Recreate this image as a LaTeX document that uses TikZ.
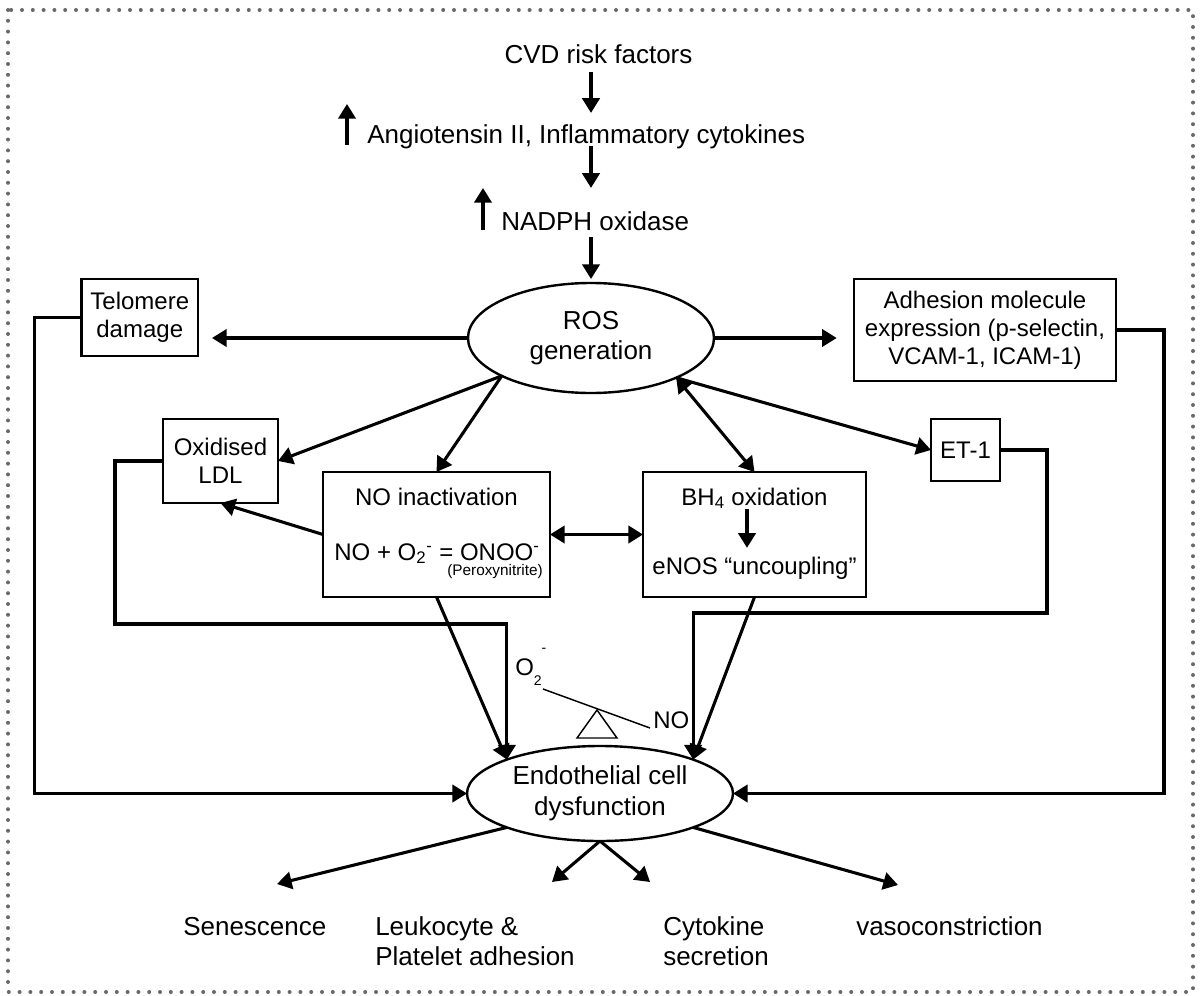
\documentclass[tikz,border=0pt]{standalone}
\usepackage{fontspec}
\setmainfont{Liberation Sans}
\usepackage{tikz}
\usetikzlibrary{arrows.meta,shapes.geometric,calc}

\begin{document}
\begin{tikzpicture}[x=0.75pt,y=0.75pt,yscale=-1,xscale=1,
  box/.style={draw,line width=1.7pt,inner sep=0pt,outer sep=0pt,align=center,font=\fontsize{18}{21}\selectfont},
  oval/.style={draw,ellipse,line width=1.8pt,inner sep=0pt,outer sep=0pt,align=center,font=\fontsize{19.5}{23}\selectfont},
  txt/.style={inner sep=0pt,font=\fontsize{18}{21}\selectfont},
  lbl/.style={inner sep=0pt,align=left,font=\fontsize{19.5}{22.5}\selectfont},
  arr/.style={line width=2.3pt,-{Triangle[length=11pt,width=13pt]}},
  dblarr/.style={line width=2.3pt,{Triangle[length=11pt,width=13pt]}-{Triangle[length=11pt,width=13pt]}},
  lever/.style={line width=1.1pt}
]
  \useasboundingbox (0,0) rectangle (1200,996);

  %Dotted frame
  \draw [color={rgb, 255:red, 105; green, 105; blue, 105 },line width=3pt,line cap=round,dash pattern=on 0pt off 8.1pt] (8,10) rectangle (1193,992);

  % Text Node
  \node (cvd) [lbl,anchor=base] at (598.5,63) {CVD risk factors};
  % Text Node
  \node (ang) [lbl,anchor=base west] at (367,143) {Angiotensin II, Inflammatory cytokines};
  % Text Node
  \node (nadph) [lbl,anchor=base west] at (501,230) {NADPH oxidase};

  %Shape: Ellipse
  \node (ros) [oval,minimum width=184.5pt,minimum height=82.5pt] at (591,338) {ROS\\generation};
  %Shape: Ellipse
  \node (ecd) [oval,minimum width=199.5pt,minimum height=71.25pt] at (600,793.5) {Endothelial cell\\dysfunction};

  %Shape: Rectangle
  \node (tel) [box,minimum width=87.4pt,minimum height=57.75pt] at (139.75,317.5) {Telomere\\damage};
  %Shape: Rectangle
  \node (adh) [box,minimum width=196.5pt,minimum height=76.5pt] at (985,330) {Adhesion molecule\\expression (p-selectin,\\VCAM-1, ICAM-1)};
  %Shape: Rectangle
  \node (oxl) [box,minimum width=86.25pt,minimum height=63pt] at (220.5,461) {Oxidised\\LDL};
  %Shape: Rectangle
  \node (noin) [box,minimum width=170.25pt,minimum height=93.75pt] at (436.5,534.5) {};
  %Shape: Rectangle
  \node (bh) [box,minimum width=167.25pt,minimum height=93.75pt] at (754.5,534.5) {};
  %Shape: Rectangle
  \node (et) [box,minimum width=51.75pt,minimum height=46.5pt] at (965.5,450) {ET-1};

  % Text Node
  \node (notitle) [txt,anchor=base] at (436.5,505) {NO inactivation};
  % Text Node
  \node (noeq) [txt,anchor=base] at (437,560) {NO + O\textsubscript{2}\textsuperscript{-} = ONOO\textsuperscript{-}};
  % Text Node
  \node (perox) [txt,anchor=base east,font=\fontsize{11.5}{13}\selectfont] at (543,575) {(Peroxynitrite)};
  % Text Node
  \node (bhtitle) [txt,anchor=base] at (754.5,505) {BH\textsubscript{4} oxidation};
  % Text Node
  \node (bheq) [txt,anchor=base] at (754.5,574) {eNOS “uncoupling”};

  % Text Node
  \node (o2) [txt,anchor=base west] at (515,675) {O\raisebox{-0.42em}{\fontsize{10.5}{12}\selectfont 2}\raisebox{0.95em}{\fontsize{10.5}{12}\selectfont -}};
  % Text Node
  \node (nolab) [txt,anchor=base west] at (653,728) {NO};
  %Straight Lines
  \draw [lever] (543,689) -- (650,728);
  %Shape: Triangle
  \draw [lever] (577,738) -- (597,710) -- (617,738) -- cycle;

  % Text Node
  \node (sen) [lbl,anchor=base west] at (183,935) {Senescence};
  % Text Node
  \node (leu) [lbl,anchor=north west] at (375,916) {Leukocyte \&\\Platelet adhesion};
  % Text Node
  \node (cyt) [lbl,anchor=north west] at (663,916) {Cytokine\\secretion};
  % Text Node
  \node (vas) [lbl,anchor=base west] at (856,935) {vasoconstriction};

  \coordinate (telbend) at (34.5,793.5);
  \coordinate (oxlbend) at (115,624);
  \coordinate (etbend) at (1047,613);
  \coordinate (adhbend) at (1164,793.5);
  \coordinate (sentip) at (277,884);
  \coordinate (leutip) at (552,882);
  \coordinate (cyttip) at (650,882);
  \coordinate (vastip) at (898,885);

  %Straight Lines
  \draw [arr,shorten <=6.75pt,shorten >=8.25pt] (cvd.base -| ros.north) -- (ang.north -| ros.north);
  \draw [arr,shorten <=2.25pt,shorten >=17.25pt] (ang.base -| ros.north) -- (nadph.north -| ros.north);
  \draw [arr,shorten <=5.25pt,shorten >=3pt] (nadph.base -| ros.north) -- (ros.north);
  \draw [arr] ($(ang.base west)+(-20,2)$) -- ($(ang.base west)+(-20,-39)$);
  \draw [arr] ($(nadph.base west)+(-18,0)$) -- ($(nadph.base west)+(-18,-42)$);

  \draw [arr,shorten >=10.5pt] (ros.west) -- (ros.west -| tel.east);
  \draw [arr,shorten >=13pt] (ros.east) -- (ros.east -| adh.west);
  \draw [arr] (ros.203) -- (oxl.east);
  \draw [arr] (ros.203) -- (noin.north);
  \draw [dblarr] (ros.335) -- (bh.north);
  \draw [arr] (ros.335) -- (et.west);
  \draw [arr] (noin.west) -- (oxl.south);
  \draw [dblarr] (noin.east) -- (bh.west);
  \draw [arr,shorten >=6.4pt] ($(bhtitle.south)+(-7.5,0)$) -- ($(bheq.north)+(-7.5,0)$);

  %Connectors into the dysfunction oval
  \draw [arr] (noin.south) -- (ecd.160);
  \draw [arr] (bh.south) -- (ecd.20);
  \draw [arr] (oxl.west) -| (oxlbend) -| (ecd.160);
  \draw [arr] (et.east) -| (etbend) -| (ecd.20);
  \draw [arr] (tel.west) -| (telbend) -- (ecd.west);
  \draw [arr] (adh.east) -| (adhbend) -- (ecd.east);

  %Outcomes
  \draw [arr] (ecd.200) -- (sentip);
  \draw [arr] (ecd.south) -- (leutip);
  \draw [arr] (ecd.south) -- (cyttip);
  \draw [arr] (ecd.340) -- (vastip);
\end{tikzpicture}
\end{document}
